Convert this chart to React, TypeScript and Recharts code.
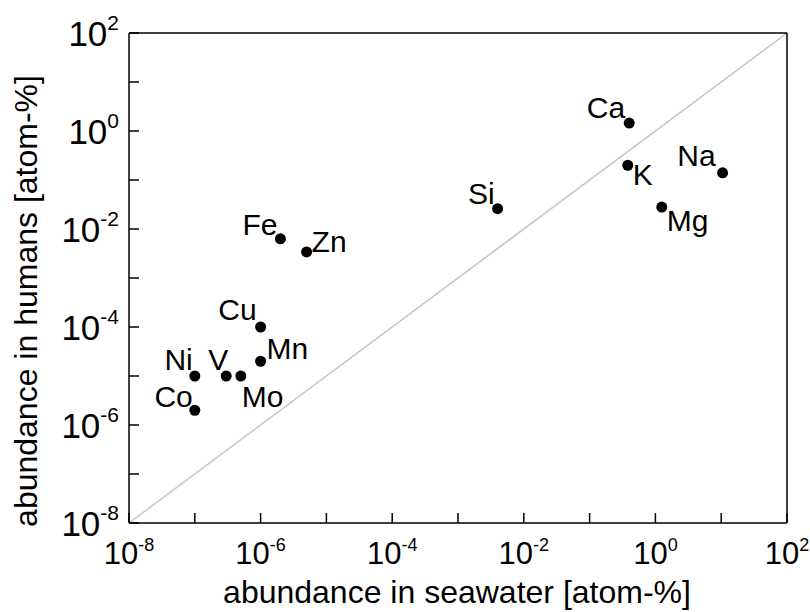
import { ScatterChart, Scatter, XAxis, YAxis, ReferenceLine } from 'recharts';

const elements = ['Fe', 'Zn', 'Cu', 'Mn', 'Ni', 'V', 'Mo', 'Co', 'Si', 'Ca', 'K', 'Na', 'Mg'];
const seawater = [2e-6, 5e-6, 1e-6, 1e-6, 1e-7, 3e-7, 5e-7, 1e-7, 4e-3, 0.4, 0.38, 10.5, 1.25];
const humans = [6.3e-3, 3.4e-3, 1e-4, 2e-5, 1e-5, 1e-5, 1e-5, 2e-6, 0.026, 1.45, 0.2, 0.14, 0.028];
const decadeTicks = [1e-8, 1e-7, 1e-6, 1e-5, 1e-4, 1e-3, 1e-2, 1e-1, 1, 10, 100];

// where each element name sits relative to its dot: [dx, dy, anchor]
const labelPlace: Record<string, [number, number, 'start' | 'end']> = {
  Fe: [-3, -4, 'end'],
  Zn: [5, 0, 'start'],
  Cu: [-4, -7, 'end'],
  Mn: [6, -2, 'start'],
  Ni: [-2, -6, 'end'],
  V: [2, -6, 'end'],
  Mo: [1, 31, 'start'],
  Co: [-2, -3, 'end'],
  Si: [-3, -5, 'end'],
  Ca: [-4, -5, 'end'],
  K: [5, 20, 'start'],
  Na: [-7, -7, 'end'],
  Mg: [5, 24, 'start'],
};

const data = elements.map((name, i) => ({ name, x: seawater[i], y: humans[i] }));

const FONT = '"Liberation Sans", Arial, sans-serif';

function PowerLabel(props: { x: number; y: number; exp: number; anchor: 'middle' | 'end'; size: number; sup: number; rise: number }) {
  const { x, y, exp, anchor, size, sup, rise } = props;
  return (
    <text x={x} y={y} textAnchor={anchor} fontFamily={FONT} fontSize={size} fill="#000">
      <tspan>10</tspan>
      <tspan dy={-rise} fontSize={sup}>{exp}</tspan>
    </text>
  );
}

function XTick(props: any) {
  const { x, y, payload } = props;
  const exp = Math.round(Math.log10(payload.value));
  return (
    <g>
      <line x1={x} x2={x} y1={y} y2={y - 10} stroke="#000" strokeWidth={1.5} />
      {exp % 2 === 0 && <PowerLabel x={x} y={y + 41} exp={exp} anchor="middle" size={31} sup={18} rise={13} />}
    </g>
  );
}

function YTick(props: any) {
  const { x, y, payload } = props;
  const exp = Math.round(Math.log10(payload.value));
  return (
    <g>
      <line x1={x} x2={x + 10} y1={y} y2={y} stroke="#000" strokeWidth={1.5} />
      {exp % 2 === 0 && <PowerLabel x={x - 10} y={y + 13} exp={exp} anchor="end" size={35} sup={21} rise={16} />}
    </g>
  );
}

function Dot(props: any) {
  const { cx, cy, payload } = props;
  const [dx, dy, anchor] = labelPlace[payload.name] || [6, 0, 'start'];
  return (
    <g>
      <circle cx={cx} cy={cy} r={5.5} fill="#000" />
      <text x={cx + dx} y={cy + dy} textAnchor={anchor} fontFamily={FONT} fontSize={30} fill="#000">
        {payload.name}
      </text>
    </g>
  );
}

export default function App() {
  return (
    <div style={{ position: 'absolute', left: 0, top: 0, width: 810, height: 612, background: '#fff' }}>
      <ScatterChart width={810} height={612} margin={{ top: 33, right: 23, bottom: 29, left: 29 }}>
        <XAxis
          type="number"
          dataKey="x"
          scale="log"
          domain={[1e-8, 100]}
          ticks={decadeTicks}
          allowDataOverflow
          height={60}
          tickSize={0}
          tickMargin={0}
          tick={<XTick />}
          axisLine={{ stroke: '#000', strokeWidth: 1.5 }}
          label={{
            content: () => (
              <text x={457} y={603} textAnchor="middle" fontFamily={FONT} fontSize={32} fill="#000">
                abundance in seawater [atom-%]
              </text>
            ),
          }}
        />
        <YAxis
          type="number"
          dataKey="y"
          scale="log"
          domain={[1e-8, 100]}
          ticks={decadeTicks}
          allowDataOverflow
          width={100}
          tickSize={0}
          tickMargin={0}
          tick={<YTick />}
          axisLine={{ stroke: '#000', strokeWidth: 1.5 }}
          label={{
            content: () => (
              <text
                x={37}
                y={301}
                textAnchor="middle"
                fontFamily={FONT}
                fontSize={32}
                fill="#000"
                transform="rotate(-90, 37, 301)"
              >
                abundance in humans [atom-%]
              </text>
            ),
          }}
        />
        <ReferenceLine
          segment={[{ x: 1e-8, y: 1e-8 }, { x: 100, y: 100 }]}
          stroke="#c4c4c4"
          strokeWidth={1.5}
        />
        <ReferenceLine y={100} stroke="#000" strokeWidth={1.5} />
        <ReferenceLine x={100} stroke="#000" strokeWidth={1.5} />
        <Scatter data={data} fill="#000" shape={<Dot />} isAnimationActive={false} />
      </ScatterChart>
    </div>
  );
}
